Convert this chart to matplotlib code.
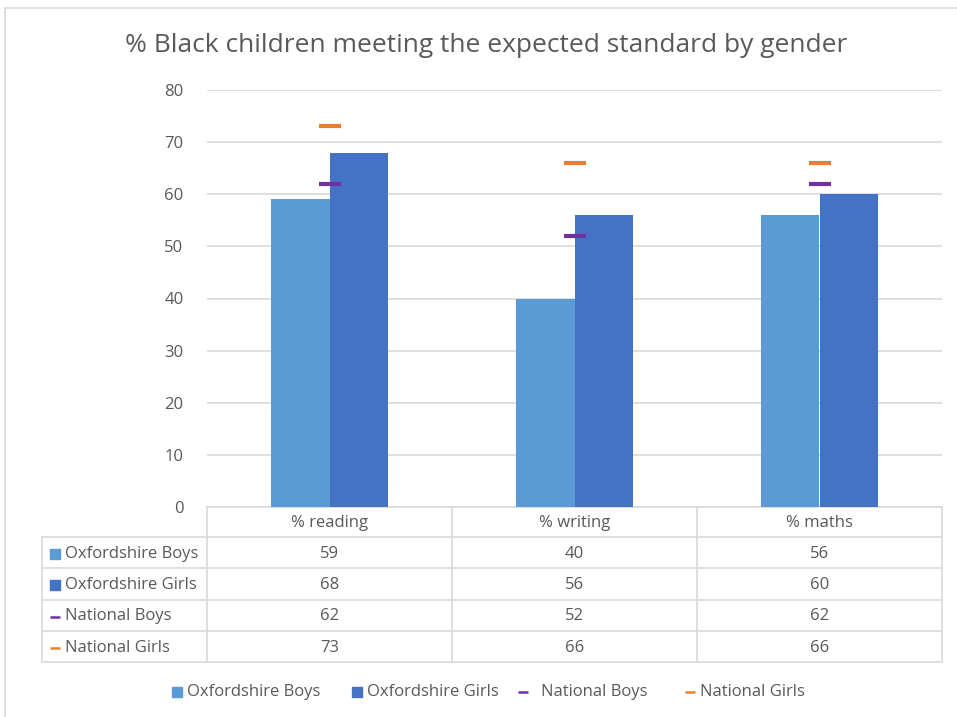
import matplotlib
matplotlib.use("Agg")
import matplotlib.pyplot as plt
import numpy as np

categories = ["% reading", "% writing", "% maths"]
series_names = ["Oxfordshire Boys", "Oxfordshire Girls", "National Boys", "National Girls"]
oxf_boys = [59, 40, 56]
oxf_girls = [68, 56, 60]
nat_boys = [62, 52, 62]
nat_girls = [73, 66, 66]
yticks = [0, 10, 20, 30, 40, 50, 60, 70, 80]
title = "% Black children meeting the expected standard by gender"

C_BOYS = "#5B9BD5"
C_GIRLS = "#4472C4"
C_NB = "#7030A0"
C_NG = "#ED7D31"
GRID = "#D9D9D9"
TXT = "#595959"
FONT = "Open Sans"
FS = 12

W, H = 957, 717
fig = plt.figure(figsize=(W / 100, H / 100), dpi=100)
plt.rcParams['font.family'] = [FONT, 'DejaVu Sans']

# overlay axes in pixel coordinates
ov = fig.add_axes([0, 0, 1, 1])
ov.set_xlim(0, W)
ov.set_ylim(H, 0)
ov.axis("off")

# outer frame
ov.plot([5, 5, W + 5], [H + 5, 8, 8], color=GRID, lw=1.2)

# plot area
x0, x1, ytop, ybot = 207, 942, 90, 507
ax = fig.add_axes([x0 / W, (H - ybot) / H, (x1 - x0) / W, (ybot - ytop) / H])
ax.set_zorder(2)
ax.patch.set_alpha(0)
n = len(categories)
x = np.arange(n)
bw = 0.24
ax.bar(x - bw / 2, oxf_boys, bw, color=C_BOYS, zorder=3)
ax.bar(x + bw / 2, oxf_girls, bw, color=C_GIRLS, zorder=3)
ax.plot(x, nat_boys, ls="none", marker="_", ms=16, mew=3, color=C_NB, zorder=4)
ax.plot(x, nat_girls, ls="none", marker="_", ms=16, mew=3, color=C_NG, zorder=4)
ax.set_xlim(-0.5, n - 0.5)
ax.set_ylim(0, 80)
ax.set_yticks(yticks)
ax.yaxis.grid(True, color=GRID, lw=1.2, zorder=0)
ax.set_axisbelow(True)
for s in ["top", "right", "left"]:
    ax.spines[s].set_visible(False)
ax.spines["bottom"].set_color(GRID)
ax.spines["bottom"].set_linewidth(1.2)
ax.set_xticks([])
ax.tick_params(axis="y", length=0, pad=17, labelsize=FS, labelcolor=TXT)

# title
ov.text(486, 45, title, ha="center", va="center", fontsize=19, color=TXT)

# data table
col_edges = [x0 + (x1 - x0) * i / n for i in range(n + 1)]
row_edges = [507, 537, 568, 600, 631, 662]
tleft = 42
for yy in row_edges[1:]:
    ov.plot([tleft, x1], [yy, yy], color=GRID, lw=1.2)
for xx in col_edges:
    ov.plot([xx, xx], [row_edges[0], row_edges[-1]], color=GRID, lw=1.2)
ov.plot([tleft, tleft], [row_edges[1], row_edges[-1]], color=GRID, lw=1.2)

for i, c in enumerate(categories):
    cx = (col_edges[i] + col_edges[i + 1]) / 2
    ov.text(cx, (row_edges[0] + row_edges[1]) / 2 + 1, c, ha="center", va="center",
            fontsize=FS, color=TXT)

data_rows = [oxf_boys, oxf_girls, nat_boys, nat_girls]
colors = [C_BOYS, C_GIRLS, C_NB, C_NG]
kinds = ["s", "s", "_", "_"]
for r, (name, vals, col, kd) in enumerate(zip(series_names, data_rows, colors, kinds)):
    cy = (row_edges[r + 1] + row_edges[r + 2]) / 2 + 1
    if kd == "s":
        ov.plot(55, cy, marker="s", ms=7, color=col, ls="none")
    else:
        ov.plot(55, cy, marker="_", ms=7, mew=1.8, color=col, ls="none")
    ov.text(65, cy, name, ha="left", va="center", fontsize=FS, color=TXT)
    for i, v in enumerate(vals):
        cx = (col_edges[i] + col_edges[i + 1]) / 2
        ov.text(cx, cy, str(v), ha="center", va="center", fontsize=FS, color=TXT)

# bottom legend
leg_y = 692
leg_items = [(177, 187), (357, 367), (523, 541), (690, 700)]
for (mx, tx), name, col, kd in zip(leg_items, series_names, colors, kinds):
    if kd == "s":
        ov.plot(mx, leg_y, marker="s", ms=7, color=col, ls="none")
    else:
        ov.plot(mx, leg_y, marker="_", ms=7, mew=1.8, color=col, ls="none")
    ov.text(tx, leg_y, name, ha="left", va="center", fontsize=FS, color=TXT)

fig.savefig("out.png", dpi=100)
